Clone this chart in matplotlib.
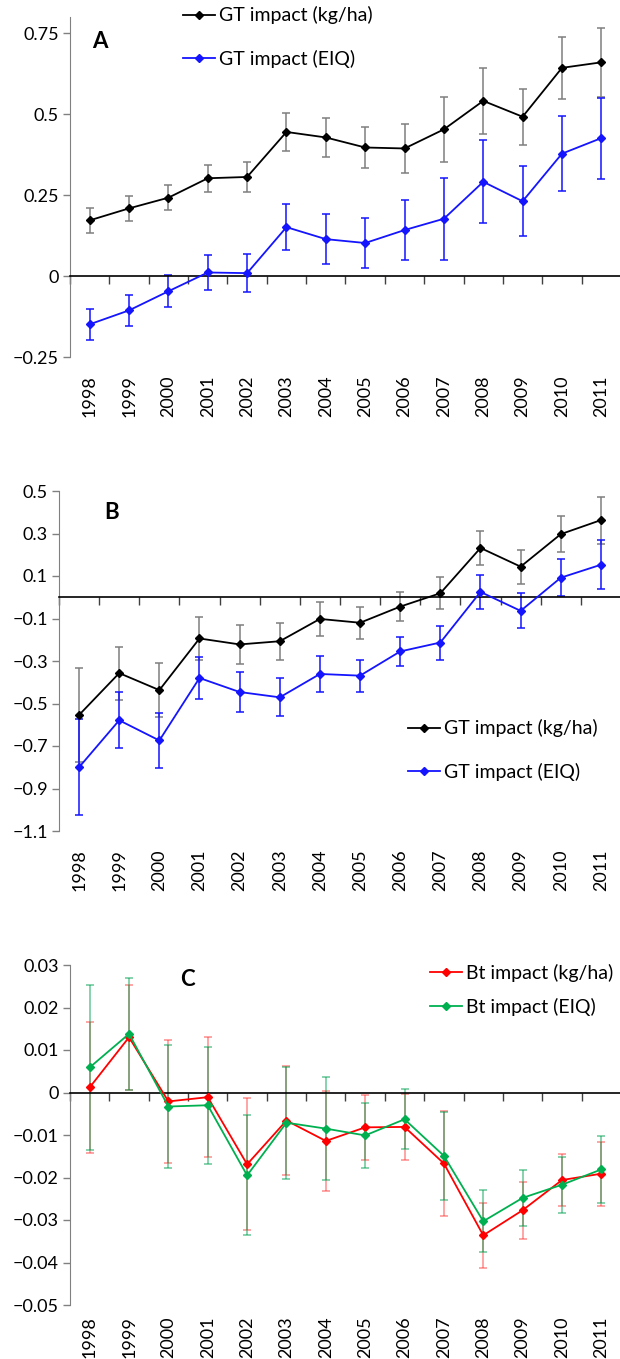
import matplotlib.pyplot as plt
import numpy as np
from matplotlib.lines import Line2D

plt.rcParams['font.family'] = ['Lato', 'DejaVu Sans']

anos = ['1998', '1999', '2000', '2001', '2002', '2003', '2004',
        '2005', '2006', '2007', '2008', '2009', '2010', '2011']

# Painel A
a_kg = [0.172, 0.209, 0.242, 0.302, 0.306, 0.445, 0.428,
        0.397, 0.394, 0.453, 0.541, 0.492, 0.643, 0.660]
a_kg_err = [0.039, 0.038, 0.038, 0.042, 0.046, 0.058, 0.060,
            0.062, 0.075, 0.100, 0.102, 0.086, 0.096, 0.107]
a_eiq = [-0.149, -0.106, -0.047, 0.011, 0.009, 0.151, 0.114,
         0.102, 0.142, 0.177, 0.291, 0.231, 0.378, 0.426]
a_eiq_err = [0.048, 0.049, 0.049, 0.054, 0.058, 0.071, 0.077,
             0.078, 0.093, 0.126, 0.128, 0.108, 0.115, 0.125]

# Painel B
b_kg = [-0.554, -0.357, -0.437, -0.194, -0.222, -0.207, -0.102,
        -0.120, -0.044, 0.019, 0.232, 0.144, 0.297, 0.363]
b_kg_err = [0.219, 0.125, 0.127, 0.100, 0.092, 0.087, 0.082,
            0.075, 0.068, 0.075, 0.078, 0.080, 0.086, 0.111]
b_eiq = [-0.800, -0.579, -0.674, -0.380, -0.446, -0.471, -0.361,
         -0.369, -0.255, -0.213, 0.025, -0.064, 0.092, 0.153]
b_eiq_err = [0.225, 0.132, 0.130, 0.101, 0.094, 0.089, 0.083,
             0.076, 0.069, 0.080, 0.080, 0.082, 0.087, 0.115]

# Painel C
c_kg = [0.0012, 0.0130, -0.0021, -0.0011, -0.0169, -0.0066, -0.0114,
        -0.0082, -0.0081, -0.0167, -0.0336, -0.0277, -0.0206, -0.0191]
c_kg_err = [0.0155, 0.0124, 0.0144, 0.0141, 0.0155, 0.0128, 0.0118,
            0.0077, 0.0077, 0.0123, 0.0077, 0.0067, 0.0062, 0.0075]
c_eiq = [0.0059, 0.0138, -0.0033, -0.0030, -0.0195, -0.0071, -0.0085,
         -0.0101, -0.0063, -0.0149, -0.0303, -0.0248, -0.0217, -0.0181]
c_eiq_err = [0.0195, 0.0132, 0.0145, 0.0138, 0.0141, 0.0132, 0.0122,
             0.0077, 0.0071, 0.0104, 0.0073, 0.0065, 0.0066, 0.0079]

W, H = 620, 1359
fig = plt.figure(figsize=(W / 100, H / 100), dpi=100)


def eixo(left, top, bottom):
    return fig.add_axes([left / W, 1 - bottom / H, (621 - left) / W, (bottom - top) / H])


def painel(ax, series, ylim, yticks, ylabels, letra, letra_xy, leg_xy, leg_sp, pad_anos=13):
    x = np.arange(len(anos))
    handles = []
    for y, err, cor, ecor, alfa, nome in series:
        ax.errorbar(x, y, yerr=err, fmt='none', ecolor=ecor, elinewidth=1.1,
                    capsize=3, capthick=1.1, alpha=alfa, zorder=2)
        ax.plot(x, y, '-', color=cor, lw=1.3, marker='D', ms=4, zorder=3)
        handles.append(Line2D([], [], color=cor, lw=1.3, marker='D', ms=4, label=nome))
    ax.set_xlim(-0.5, len(anos) - 0.5)
    ax.set_ylim(*ylim)
    ax.set_yticks(yticks)
    ax.set_yticklabels(ylabels, fontsize=13)
    ax.tick_params(axis='y', direction='out', length=5, width=1, color='#808080', pad=3)
    for s in ['top', 'right']:
        ax.spines[s].set_visible(False)
    ax.spines['left'].set_color('#808080')
    ax.spines['bottom'].set_position(('data', 0))
    ax.spines['bottom'].set_color('black')
    ax.spines['bottom'].set_linewidth(1.2)
    ax.set_xticks(np.arange(-0.5, len(anos)))
    ax.tick_params(axis='x', direction='out', length=6, width=1, color='#404040',
                   labelbottom=False)
    sec = ax.secondary_xaxis(0.0)
    sec.set_xticks(x)
    sec.set_xticklabels(anos, rotation=90, fontsize=13)
    sec.tick_params(axis='x', length=0, pad=pad_anos)
    sec.spines['bottom'].set_visible(False)
    fig.text(letra_xy[0] / W, 1 - letra_xy[1] / H, letra, fontsize=16,
             fontweight='bold', ha='center', va='center')
    fig.legend(handles=handles, loc='center left',
               bbox_to_anchor=(leg_xy[0] / W, 1 - leg_xy[1] / H),
               frameon=False, fontsize=14, handlelength=1.65, handletextpad=0.2,
               borderpad=0, borderaxespad=0, labelspacing=leg_sp)


axA = eixo(70, 17, 357)
painel(axA,
       [(a_kg, a_kg_err, 'black', '#7f7f7f', 1, 'GT impact (kg/ha)'),
        (a_eiq, a_eiq_err, '#1414ff', '#1414ff', 1, 'GT impact (EIQ)')],
       (-0.25, 0.80), [-0.25, 0, 0.25, 0.5, 0.75],
       ['\u22120.25', '0', '0.25', '0.5', '0.75'],
       'A', (100, 42), (183, 37), 1.3)

axB = eixo(59, 491, 831)
painel(axB,
       [(b_kg, b_kg_err, 'black', '#7f7f7f', 1, 'GT impact (kg/ha)'),
        (b_eiq, b_eiq_err, '#1414ff', '#1414ff', 1, 'GT impact (EIQ)')],
       (-1.1, 0.5), [-1.1, -0.9, -0.7, -0.5, -0.3, -0.1, 0.1, 0.3, 0.5],
       ['\u22121.1', '\u22120.9', '\u22120.7', '\u22120.5', '\u22120.3', '\u22120.1',
        '0.1', '0.3', '0.5'],
       'B', (112, 513), (408, 750), 1.3)

axC = eixo(70, 965, 1305)
painel(axC,
       [(c_kg, c_kg_err, '#ff0000', '#ff3030', 0.55, 'Bt impact (kg/ha)'),
        (c_eiq, c_eiq_err, '#00b050', '#00a050', 0.6, 'Bt impact (EIQ)')],
       (-0.05, 0.03), [-0.05, -0.04, -0.03, -0.02, -0.01, 0, 0.01, 0.02, 0.03],
       ['\u22120.05', '\u22120.04', '\u22120.03', '\u22120.02', '\u22120.01', '0',
        '0.01', '0.02', '0.03'],
       'C', (187, 980), (430, 990), 0.8, pad_anos=8)

fig.savefig('out.png', dpi=100)
